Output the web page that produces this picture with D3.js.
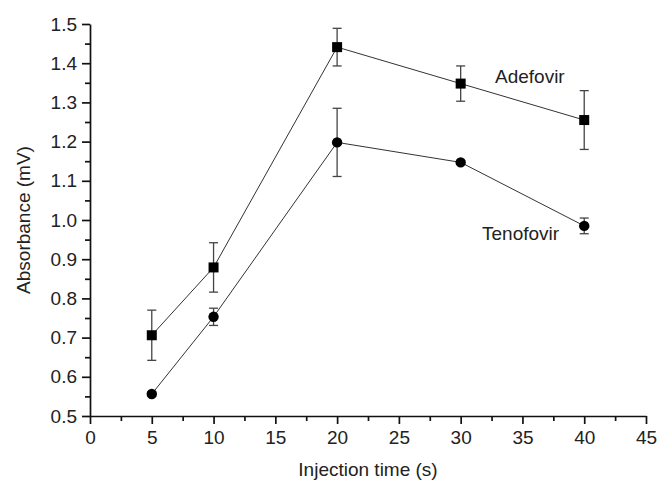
<!DOCTYPE html>
<html>
<head>
<meta charset="utf-8">
<script src="https://cdn.jsdelivr.net/npm/d3@7"></script>
<style>
    body { margin: 0; background: #fff; }
    svg { display: block; font-family: "Liberation Sans", Arial, sans-serif; }
</style>
</head>
<body>
<script>

const times = [5, 10, 20, 30, 40];
const adefovir = [0.706, 0.879, 1.441, 1.348, 1.255];
const adefovirErr = [0.064, 0.063, 0.048, 0.045, 0.075];
const tenofovir = [0.556, 0.753, 1.198, 1.147, 0.985];
const tenofovirErr = [0.006, 0.022, 0.087, 0.005, 0.02];
const xTicks = [0, 5, 10, 15, 20, 25, 30, 35, 40, 45];
const yTicks = [0.5, 0.6, 0.7, 0.8, 0.9, 1.0, 1.1, 1.2, 1.3, 1.4, 1.5];

const margin = {top: 24, right: 11, bottom: 67, left: 90},
    width = 657 - margin.left - margin.right,
    height = 483 - margin.top - margin.bottom;

const fontSize = 19;

let svg = d3.select('body').append('svg')
    .attr('width', 657)
    .attr('height', 483);

let graph = svg.append('g')
    .attr('transform', 'translate(' + margin.left + ',' + margin.top + ')');

let x = d3.scaleLinear().domain([0, 45]).range([0, width]);
let y = d3.scaleLinear().domain([0.5, 1.5]).range([height, 0]);

// minor ticks first, majors on top
graph.append('g')
    .attr('transform', 'translate(0,' + height + ')')
    .call(d3.axisBottom(x).tickValues(d3.range(2.5, 45, 5)).tickSize(5).tickFormat(''))
    .call(g => g.select('.domain').remove());

graph.append('g')
    .call(d3.axisLeft(y).tickValues(d3.range(0.55, 1.5, 0.1)).tickSize(5).tickFormat(''))
    .call(g => g.select('.domain').remove());

let xAxis = graph.append('g')
    .attr('transform', 'translate(0,' + height + ')')
    .call(d3.axisBottom(x).tickValues(xTicks).tickSize(8).tickSizeOuter(0).tickPadding(7));

let yAxis = graph.append('g')
    .call(d3.axisLeft(y).tickValues(yTicks).tickSize(8).tickSizeOuter(0).tickPadding(5)
        .tickFormat(d3.format('.1f')));

[xAxis, yAxis].forEach(a => {
    a.selectAll('text').attr('font-size', fontSize).attr('fill', '#222')
        .attr('font-family', '"Liberation Sans", Arial, sans-serif');
});
graph.selectAll('.domain, .tick line').attr('stroke', '#111').attr('stroke-width', 1.7);

svg.append('text')
    .attr('x', margin.left + width / 2)
    .attr('y', 476)
    .attr('text-anchor', 'middle')
    .attr('font-size', fontSize)
    .attr('fill', '#222')
    .text('Injection time (s)');

svg.append('text')
    .attr('transform', 'translate(30,' + (margin.top + height / 2) + ') rotate(-90)')
    .attr('text-anchor', 'middle')
    .attr('font-size', fontSize)
    .attr('fill', '#222')
    .text('Absorbance (mV)');

let series = [
    {name: 'Adefovir', values: adefovir, err: adefovirErr, shape: 'square'},
    {name: 'Tenofovir', values: tenofovir, err: tenofovirErr, shape: 'circle'}
];

let line = d3.line()
    .x((d, i) => x(times[i]))
    .y(d => y(d));

series.forEach(s => {
    let grp = graph.append('g');

    grp.selectAll('g.err')
        .data(s.values)
        .enter()
        .append('g')
        .attr('class', 'err')
        .each(function (d, i) {
            let e = d3.select(this);
            let cx = x(times[i]);
            let top = y(d + s.err[i]), bot = y(d - s.err[i]);
            e.append('line').attr('x1', cx).attr('x2', cx).attr('y1', top).attr('y2', bot);
            e.append('line').attr('x1', cx - 4.5).attr('x2', cx + 4.5).attr('y1', top).attr('y2', top);
            e.append('line').attr('x1', cx - 4.5).attr('x2', cx + 4.5).attr('y1', bot).attr('y2', bot);
        })
        .selectAll('line')
        .attr('stroke', '#444')
        .attr('stroke-width', 1.3);

    grp.append('path')
        .datum(s.values)
        .attr('d', line)
        .attr('fill', 'none')
        .attr('stroke', '#333')
        .attr('stroke-width', 1);

    if (s.shape === 'square') {
        grp.selectAll('rect')
            .data(s.values)
            .enter()
            .append('rect')
            .attr('x', (d, i) => x(times[i]) - 5)
            .attr('y', d => y(d) - 5)
            .attr('width', 10)
            .attr('height', 10)
            .attr('fill', '#000');
    } else {
        grp.selectAll('circle')
            .data(s.values)
            .enter()
            .append('circle')
            .attr('cx', (d, i) => x(times[i]))
            .attr('cy', d => y(d))
            .attr('r', 5.2)
            .attr('fill', '#000');
    }
});

svg.append('text')
    .attr('x', 495)
    .attr('y', 83)
    .attr('font-size', fontSize)
    .attr('fill', '#222')
    .text('Adefovir');

svg.append('text')
    .attr('x', 482)
    .attr('y', 240)
    .attr('font-size', fontSize)
    .attr('fill', '#222')
    .text('Tenofovir');

</script>
</body>
</html>
